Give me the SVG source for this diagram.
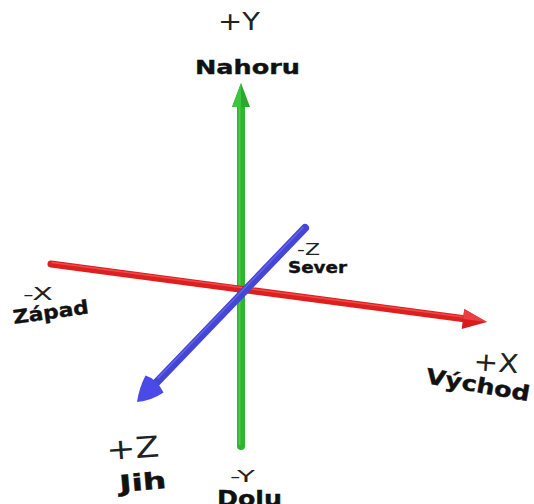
<svg xmlns="http://www.w3.org/2000/svg" width="534" height="504" viewBox="0 0 534 504">
  <style>
    .thin { font-family: "DejaVu Sans", "Liberation Sans", sans-serif; font-weight: normal; fill: #222; }
    .bold { font-family: "DejaVu Sans", "Liberation Sans", sans-serif; font-weight: bold; fill: #111; stroke: #111; stroke-width: 0.4; }
    .ax { fill: none; stroke-linecap: round; }
  </style>
  <rect width="534" height="504" fill="#ffffff"/>
  <g id="connectors">
    <g id="axis-y">
      <line class="ax" x1="241" y1="104" x2="241" y2="446" stroke="#2fb52f" stroke-width="8"/>
      <line class="ax" x1="239.5" y1="108" x2="239.5" y2="444" stroke="#48cc48" stroke-width="2"/>
      <polygon points="241,83 250,107 232,107" fill="#2aaa2a"/>
      <polygon points="241,83 241,107 232,107" fill="#3fc43f"/>
    </g>
    <g id="axis-x">
      <line class="ax" x1="51" y1="264" x2="466" y2="319" stroke="#dd1f1f" stroke-width="7"/>
      <line class="ax" x1="52" y1="262.5" x2="462" y2="316.8" stroke="#ee4a4a" stroke-width="1.5"/>
      <polygon points="487,322 461.7,328.9 464.3,309.1" fill="#d81b1b"/>
      <polygon points="487,322 464.3,309.1 463,319" fill="#e84040"/>
    </g>
    <g id="axis-z">
      <line class="ax" x1="305" y1="228" x2="156" y2="383" stroke="#4646d6" stroke-width="8"/>
      <line class="ax" x1="303" y1="227.5" x2="158" y2="378" stroke="#6464e6" stroke-width="1.5"/>
      <path d="M163.5,392.5 Q151,401 137,402 Q139,388 145.5,375.5 Q157,379 163.5,392.5 Z" fill="#4a4ae8"/>
    </g>
  </g>
  <g id="node-up">
    <text class="thin" x="218" y="30" font-size="25" textLength="42" lengthAdjust="spacingAndGlyphs">+Y</text>
    <text class="bold" x="195" y="74" font-size="20" textLength="105" lengthAdjust="spacingAndGlyphs">Nahoru</text>
  </g>
  <g id="node-north">
    <text class="thin" x="297" y="255" font-size="16" textLength="23" lengthAdjust="spacingAndGlyphs">-Z</text>
    <text class="bold" x="288" y="273" font-size="15.5" textLength="59" lengthAdjust="spacingAndGlyphs">Sever</text>
  </g>
  <g id="node-west">
    <text class="thin" x="23" y="300" font-size="18" textLength="30" lengthAdjust="spacingAndGlyphs">-X</text>
    <text class="bold" x="14" y="324" font-size="19" textLength="76" lengthAdjust="spacingAndGlyphs" transform="rotate(-8 14 324)">Západ</text>
  </g>
  <g id="node-east">
    <text class="thin" x="473" y="370" font-size="26" textLength="45" lengthAdjust="spacingAndGlyphs" transform="rotate(4 473 370)">+X</text>
    <text class="bold" x="425" y="383" font-size="21" textLength="105" lengthAdjust="spacingAndGlyphs" transform="rotate(10 425 383)">Východ</text>
  </g>
  <g id="node-south">
    <text class="thin" x="107" y="460" font-size="29" textLength="53" lengthAdjust="spacingAndGlyphs" transform="rotate(-4 107 460)">+Z</text>
    <text class="bold" x="120" y="492" font-size="23" textLength="47" lengthAdjust="spacingAndGlyphs" transform="rotate(-5 120 492)">Jih</text>
  </g>
  <g id="node-down">
    <text class="thin" x="230" y="482" font-size="15" textLength="25" lengthAdjust="spacingAndGlyphs">-Y</text>
    <text class="bold" x="217" y="506" font-size="22" textLength="65" lengthAdjust="spacingAndGlyphs">Dolu</text>
  </g>
</svg>
